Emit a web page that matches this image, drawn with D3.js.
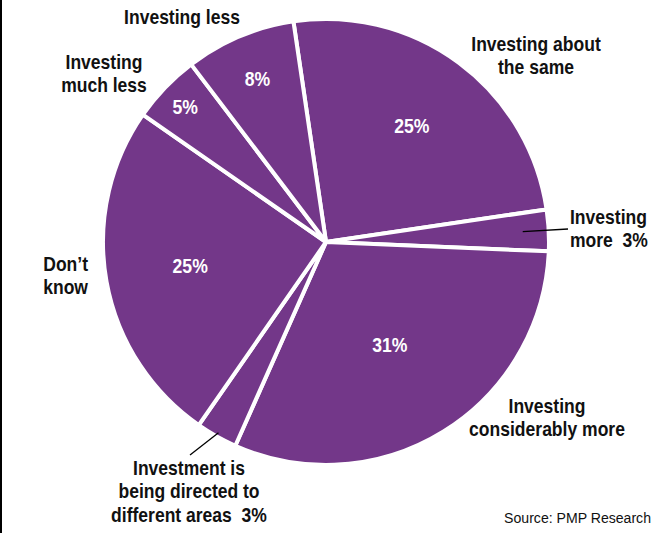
<!DOCTYPE html>
<html>
<head>
<meta charset="utf-8">
<script src="https://cdn.jsdelivr.net/npm/d3@7"></script>
<style>
  html, body { margin: 0; padding: 0; background: #fff; }
  svg { display: block; }
  text { white-space: pre; }
  .cat { font-family: "Liberation Sans", Arial, sans-serif; font-weight: bold; font-size: 20.5px; fill: #111; }
  .pct { font-family: "Liberation Sans", Arial, sans-serif; font-weight: bold; font-size: 20px; fill: #fff; }
  .src { font-family: "Liberation Sans", Arial, sans-serif; font-size: 15.5px; fill: #111; }
</style>
</head>
<body>
<script>
// Survey answers, clockwise from the "about the same" slice
const categories = [
  "Investing about the same",
  "Investing more",
  "Investing considerably more",
  "Investment is being directed to different areas",
  "Don't know",
  "Investing much less",
  "Investing less"
];
const shares = [25, 3, 31, 3, 25, 5, 8];
const shareLabels = ["25%", "3%", "31%", "3%", "25%", "5%", "8%"];

const width = 658, height = 533;
const cx = 326, cy = 242, radius = 223;
const purple = "#733789";
const condense = 0.855; // horizontal squeeze for a condensed look

const svg = d3.select("body").append("svg")
  .attr("width", width).attr("height", height);

// left frame rule
svg.append("line")
  .attr("x1", 1).attr("x2", 1).attr("y1", 0).attr("y2", height)
  .attr("stroke", "#000").attr("stroke-width", 2);

const pie = d3.pie().sort(null).value(d => d)
  .startAngle(-8.4 * Math.PI / 180)
  .endAngle((360 - 8.4) * Math.PI / 180);
const arcs = pie(shares);

const arc = d3.arc().innerRadius(0).outerRadius(radius);
const g = svg.append("g").attr("transform", `translate(${cx},${cy})`);

g.selectAll("path.slice").data(arcs).join("path")
  .attr("class", "slice")
  .attr("d", arc)
  .attr("fill", purple)
  .attr("stroke", "#fff")
  .attr("stroke-width", 4)
  .attr("stroke-linejoin", "round");

// in-slice percentage labels: radius at which each label sits (null = labelled outside)
const innerLabelRadius = [144, null, 121, null, 138, 195, 177];
arcs.forEach((a, i) => {
  const r = innerLabelRadius[i];
  if (r == null) return;
  const mid = (a.startAngle + a.endAngle) / 2;
  g.append("text").attr("class", "pct")
    .attr("transform", `translate(${r * Math.sin(mid)},${-r * Math.cos(mid)}) scale(0.88,1)`)
    .attr("text-anchor", "middle")
    .attr("dominant-baseline", "central")
    .text(shareLabels[i]);
});

// outside category labels
const outside = [
  { i: 0, x: 536, y: 51, anchor: "middle", lines: ["Investing about", "the same"] },
  { i: 1, x: 570, y: 224, anchor: "start", lines: ["Investing", "more  " + shareLabels[1]] },
  { i: 2, x: 547, y: 413, anchor: "middle", lines: ["Investing", "considerably more"] },
  { i: 3, x: 189, y: 475, anchor: "middle", lines: ["Investment is", "being directed to", "different areas  " + shareLabels[3]] },
  { i: 4, x: 88, y: 271, anchor: "end", lines: ["Don\u2019t", "know"] },
  { i: 5, x: 104, y: 69, anchor: "middle", lines: ["Investing", "much less"] },
  { i: 6, x: 182, y: 24, anchor: "middle", lines: ["Investing less"] }
];
outside.forEach(o => {
  const t = svg.append("text").attr("class", "cat")
    .attr("text-anchor", o.anchor)
    .attr("transform", `translate(${o.x},${o.y}) scale(${condense},1)`);
  o.lines.forEach((ln, k) => {
    t.append("tspan").attr("x", 0).attr("y", k * 23.5).text(ln);
  });
});

// leader lines for the two narrow slices
function leader(i, rIn, x2, y2) {
  const a = arcs[i];
  const mid = (a.startAngle + a.endAngle) / 2;
  svg.append("line")
    .attr("x1", cx + rIn * Math.sin(mid))
    .attr("y1", cy - rIn * Math.cos(mid))
    .attr("x2", x2).attr("y2", y2)
    .attr("stroke", "#000").attr("stroke-width", 1.3);
}
leader(1, 197, 568, 229);
leader(3, 219, 190, 455);

svg.append("text").attr("class", "src")
  .attr("transform", `translate(651,523) scale(0.91,1)`)
  .attr("text-anchor", "end")
  .text("Source: PMP Research");
</script>
</body>
</html>
